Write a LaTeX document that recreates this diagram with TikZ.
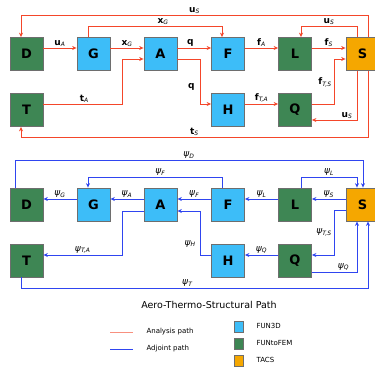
\documentclass[tikz,border=0pt]{standalone}
\usepackage{fontspec}
\setmainfont{DejaVu Sans}
\usetikzlibrary{arrows.meta}
\definecolor{anred}{HTML}{F4462A}
\definecolor{adblue}{HTML}{2F45F0}
\definecolor{funthreed}{HTML}{3DBDF8}
\definecolor{funtofem}{HTML}{3E8654}
\definecolor{tacs}{HTML}{F5A700}
\definecolor{boxedge}{HTML}{6E6E6E}
\tikzset{
  blk/.style={draw=boxedge, line width=0.8pt, minimum width=33pt, minimum height=33pt, inner sep=0pt, font=\fontsize{13}{13}\selectfont\bfseries},
  fblk/.style={blk, fill=funthreed},
  gblk/.style={blk, fill=funtofem},
  tblk/.style={blk, fill=tacs},
  ana/.style={draw=anred, line width=0.8pt, -{Stealth[length=4.5pt,width=4pt]}},
  adj/.style={draw=adblue, line width=0.8pt, -{Stealth[length=4.5pt,width=4pt]}},
  lab/.style={font=\fontsize{9}{10}\selectfont, inner sep=1pt},
  legtxt/.style={font=\fontsize{7}{8}\selectfont, anchor=west},
  key/.style={draw=boxedge, minimum width=9pt, minimum height=11pt, inner sep=0pt, line width=0.6pt},
}
\newcommand{\bv}[2]{\textbf{#1}\textsubscript{\textit{#2}}}
\newcommand{\ps}[1]{\textit{ψ}\textsubscript{\textit{#1}}}
\begin{document}
\begin{tikzpicture}[x=1pt,y=-1pt]
\useasboundingbox (0,0) rectangle (375,367);
% ---------------- top (analysis) ----------------
\node[gblk] (D) at (26.5,54) {D};
\node[fblk] (G) at (93.5,54) {G};
\node[fblk] (A) at (160.5,54) {A};
\node[fblk] (F) at (228,54) {F};
\node[gblk] (L) at (295,54) {L};
\node[tblk] (S) at (362.5,54) {S};
\node[gblk] (T) at (26.5,110) {T};
\node[fblk] (H) at (228,110) {H};
\node[gblk] (Q) at (295,110) {Q};

\draw[ana] ([yshift=6pt]D.east) -- node[lab,above] {\bv{u}{A}} ([yshift=6pt]G.west);
\draw[ana] ([yshift=6pt]G.east) -- node[lab,above] {\bv{x}{G}} ([yshift=6pt]A.west);
\draw[ana] ([yshift=6pt]A.east) -- node[lab,above,xshift=-4pt] {\textbf{q}} ([yshift=6pt]F.west);
\draw[ana] ([yshift=6pt]F.east) -- node[lab,above] {\bv{f}{A}} ([yshift=6pt]L.west);
\draw[ana] ([yshift=6pt]L.east) -- node[lab,above] {\bv{f}{S}} ([yshift=6pt]S.west);
\draw[ana] ([xshift=5.5pt]S.north) |- (21,15) node[lab,pos=0.75,above] {\bv{u}{S}} -- (D.north-|21,0);
\draw[ana] (G.north-|88,0) |- (222,26) node[lab,pos=0.78,above] {\bv{x}{G}} -- (F.north-|222,0);
\draw[ana] ([xshift=-5.5pt]S.north) |- (301,26) node[lab,pos=0.75,above] {\bv{u}{S}} -- (L.north-|301,0);
\draw[ana] ([yshift=6pt]T.east) -- (122,104) node[lab,pos=0.52,above] {\bv{t}{A}} |- ([yshift=-5pt]A.west);
\draw[ana] ([yshift=-5pt]A.east) -| (200,104) node[lab,pos=0.81,left,xshift=-4pt] {\textbf{q}} -- ([yshift=6pt]H.west);
\draw[ana] ([yshift=6pt]H.east) -- node[lab,above] {\bv{f}{T,A}} ([yshift=6pt]Q.west);
\draw[ana] ([yshift=6pt]Q.east) -- (334,104) |- node[lab,pos=0.25,left,xshift=-1pt,yshift=-1pt] {\bv{f}{T,S}} ([yshift=-5pt]S.west);
\draw[ana] ([xshift=-5.5pt]S.south) |- (Q.east|-0,120) node[lab,pos=0.6,above,xshift=-1pt] {\bv{u}{S}};
\draw[ana] ([xshift=5.5pt]S.south) |- (21,137) node[lab,pos=0.75,above] {\bv{t}{S}} -- (T.south-|21,0);

% ---------------- bottom (adjoint) ----------------
\node[gblk] (D2) at (26.5,204.5) {D};
\node[fblk] (G2) at (93.5,204.5) {G};
\node[fblk] (A2) at (160.5,204.5) {A};
\node[fblk] (F2) at (228,204.5) {F};
\node[gblk] (L2) at (295,204.5) {L};
\node[tblk] (S2) at (362.5,204.5) {S};
\node[gblk] (T2) at (26.5,260.5) {T};
\node[fblk] (H2) at (228,260.5) {H};
\node[gblk] (Q2) at (295,260.5) {Q};

\draw[adj] ([yshift=5.5pt]G2.west) -- node[lab,above] {\ps{G}} ([yshift=5.5pt]D2.east);
\draw[adj] ([yshift=5.5pt]A2.west) -- node[lab,above] {\ps{A}} ([yshift=5.5pt]G2.east);
\draw[adj] ([yshift=5.5pt]F2.west) -- node[lab,above] {\ps{F}} ([yshift=5.5pt]A2.east);
\draw[adj] ([yshift=5.5pt]L2.west) -- node[lab,above] {\ps{L}} ([yshift=5.5pt]F2.east);
\draw[adj] ([yshift=5.5pt]S2.west) -- node[lab,above] {\ps{S}} ([yshift=5.5pt]L2.east);
\draw[adj] (D2.north-|15,0) |- (363,160) node[lab,pos=0.75,above] {\ps{D}} -- (S2.north-|363,0);
\draw[adj] (F2.north-|222,0) |- (88,177) node[lab,pos=0.73,above] {\ps{F}} -- (G2.north-|88,0);
\draw[adj] (L2.north-|301,0) |- (357,177) node[lab,pos=0.75,above] {\ps{L}} -- (S2.north-|357,0);
\draw[adj] ([yshift=5.5pt]H2.west) -| (200,211) node[lab,pos=0.63,left,xshift=-3pt] {\ps{H}} -- ([yshift=-6.5pt]A2.east);
\draw[adj] ([yshift=-6.5pt]A2.west) -| (122,255) -- node[lab,above] {\ps{T,A}} ([yshift=5.5pt]T2.east);
\draw[adj] ([yshift=5.5pt]Q2.west) -- node[lab,above] {\ps{Q}} ([yshift=5.5pt]H2.east);
\draw[adj] ([yshift=-5.5pt]S2.west) -| (334,255) node[lab,pos=0.75,left,xshift=-1pt] {\ps{T,S}} -- ([yshift=5.5pt]Q2.east);
\draw[adj] ([yshift=-11.5pt]Q2.east) -| node[lab,pos=0.35,above] {\ps{Q}} ([xshift=-5.5pt]S2.south);
\draw[adj] (T2.south-|21,0) |- (368,288) node[lab,pos=0.74,above] {\ps{T}} -- ([xshift=5.5pt]S2.south);

% ---------------- legend ----------------
\node[font=\fontsize{9.5}{10}\selectfont] (title) at (209,305) {Aero-Thermo-Structural Path};
\coordinate (r1) at (110,332); \coordinate (r2) at (133,332);
\draw[draw=anred!60, line width=0.8pt] (r1) -- (r2);
\node[legtxt] (an) at (143,332) {Analysis path};
\coordinate (b1) at (110,349); \coordinate (b2) at (133,349);
\draw[draw=adblue, line width=0.8pt] (b1) -- (b2);
\node[legtxt] (ad) at (143,349) {Adjoint path};
\node[key, fill=funthreed] (k1) at (238.5,327) {};
\node[key, fill=funtofem] (k2) at (238.5,343.5) {};
\node[key, fill=tacs] (k3) at (238.5,360.5) {};
\node[legtxt] (t1) at (253,326) {FUN3D};
\node[legtxt] (t2) at (253,342.5) {FUNtoFEM};
\node[legtxt] (t3) at (253,359.5) {TACS};
\end{tikzpicture}
\end{document}
